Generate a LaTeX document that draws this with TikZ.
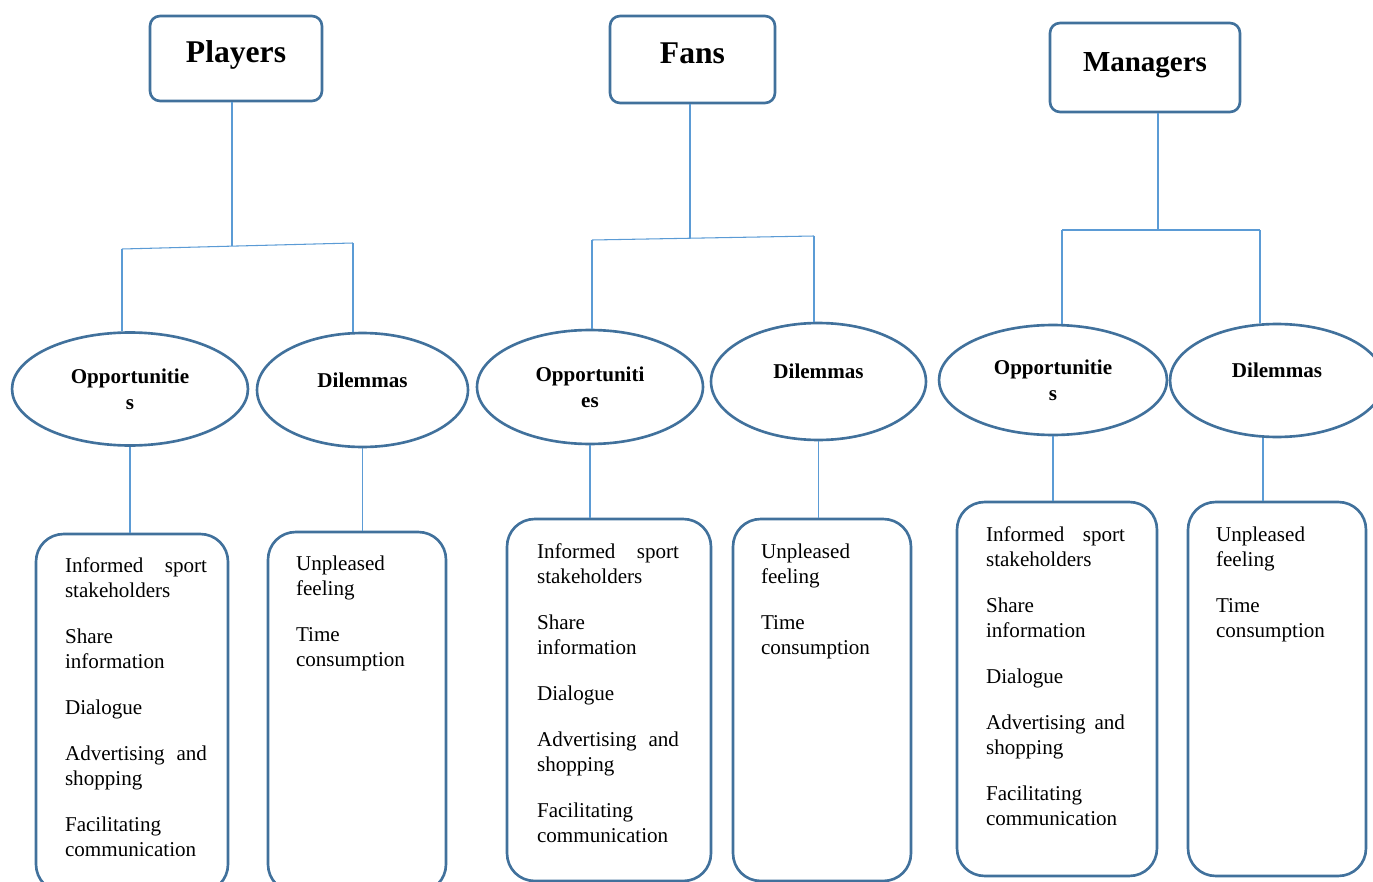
\documentclass[tikz,border=0pt]{standalone}
\usepackage{fontspec}
\setmainfont{Liberation Serif}
\usetikzlibrary{positioning,shapes.geometric}
\definecolor{boxblue}{RGB}{65,113,156}
\definecolor{lineblue}{RGB}{91,155,213}
\hyphenpenalty=10000
\exhyphenpenalty=10000
\newcommand{\itemgap}{\par\vspace{11.9pt}}
\newcommand{\listfont}{\fontsize{12}{14.2}\selectfont}
\newcommand{\opptext}{Informed sport stakeholders\itemgap Share information\itemgap Dialogue\itemgap Advertising and shopping\itemgap Facilitating communication}
\newcommand{\diltext}{Unpleased feeling\itemgap Time consumption}
\begin{document}
\begin{tikzpicture}[x=0.02cm,y=-0.02cm,
        headbox/.style={draw=boxblue,line width=1.5pt,rounded corners=0.2cm,
            font=\fontsize{18}{22}\selectfont\bfseries,text height=12pt,text depth=8pt},
        topic/.style={draw=boxblue,line width=1.5pt,ellipse,align=center,inner sep=0pt,
            font=\fontsize{12}{14.7}\selectfont\bfseries},
        dilemma/.style={topic,text depth=11.5pt},
        listbox/.style={draw=boxblue,line width=1.5pt,rounded corners=0.55cm},
        listtext/.style={inner sep=0pt,text width=2.84cm,align=justify,font=\listfont},
        conn/.style={draw=lineblue,line width=0.6pt}]
    \useasboundingbox (0,0) rectangle (1373,882);
    %% head boxes
    \node[headbox,minimum width=3.44cm,minimum height=1.7cm] (players) at (236,58.5) {Players};
    \node[headbox,minimum width=3.3cm,minimum height=1.74cm] (fans) at (692.5,59.5) {Fans};
    \node[headbox,minimum width=3.8cm,minimum height=1.78cm,
        font=\fontsize{16.5}{20}\selectfont\bfseries] (managers) at (1145,67.5) {Managers};
    %% ellipses
    \node[topic,minimum width=4.72cm,minimum height=2.26cm] (popp) at (130,389) {Opportunitie\\s};
    \node[dilemma,minimum width=4.22cm,minimum height=2.28cm] (pdil) at (362.5,390) {Dilemmas};
    \node[topic,minimum width=4.52cm,minimum height=2.28cm] (fopp) at (590,387) {Opportuniti\\es};
    \node[dilemma,minimum width=4.3cm,minimum height=2.34cm] (fdil) at (818.5,381.5) {Dilemmas};
    \node[topic,minimum width=4.56cm,minimum height=2.2cm] (mopp) at (1053,380) {Opportunitie\\s};
    \node[dilemma,minimum width=4.28cm,minimum height=2.26cm] (mdil) at (1277,380.5) {Dilemmas};
    %% list boxes
    \node[listbox,minimum width=3.84cm,minimum height=7.16cm] (plist) at (132,713) {};
    \node[listbox,minimum width=3.56cm,minimum height=7.2cm] (pdlist) at (357,712) {};
    \node[listbox,minimum width=4.08cm,minimum height=7.24cm] (flist) at (609,700) {};
    \node[listbox,minimum width=3.56cm,minimum height=7.24cm] (fdlist) at (822,700) {};
    \node[listbox,minimum width=4cm,minimum height=7.48cm] (mlist) at (1057,689) {};
    \node[listbox,minimum width=3.56cm,minimum height=7.48cm] (mdlist) at (1277,689) {};
    %% list texts
    \node[listtext,below right=0.5cm and 0.6cm of plist.north west] (ptext) {\opptext};
    \node[listtext,below right=0.5cm and 0.58cm of pdlist.north west] (pdtext) {\diltext};
    \node[listtext,below right=0.52cm and 0.62cm of flist.north west] (ftext) {\opptext};
    \node[listtext,below right=0.52cm and 0.58cm of fdlist.north west] (fdtext) {\diltext};
    \node[listtext,text width=2.78cm,below right=0.52cm and 0.6cm of mlist.north west] (mtext) {\opptext};
    \node[listtext,below right=0.52cm and 0.58cm of mdlist.north west] (mdtext) {\diltext};
    %% branch points
    \coordinate (pmid) at (232,246);
    \coordinate (pl) at (122,249);
    \coordinate (pr) at (353,243);
    \coordinate (fmid) at (690,238);
    \coordinate (fl) at (592,240);
    \coordinate (fr) at (814,236);
    \coordinate (mmid) at (1158,230);
    \coordinate (ml) at (1062,230);
    \coordinate (mr) at (1260,230);
    %% connectors
    \draw[conn] (pmid |- players.south) -- (pmid);
    \draw[conn] (fmid |- fans.south) -- (fmid);
    \draw[conn] (mmid |- managers.south) -- (mmid);
    \draw[conn] (pl) -- (pr);
    \draw[conn] (fl) -- (fr);
    \draw[conn] (ml) -- (mr);
    \foreach \c/\t in {pl/popp,pr/pdil,fl/fopp,fr/fdil,ml/mopp,mr/mdil}
        \draw[conn] (\c) -- (\c |- \t.north);
    \foreach \a/\b in {popp/plist,pdil/pdlist,fopp/flist,fdil/fdlist,mopp/mlist}
        \draw[conn] (\a.south) -- (\a.south |- \b.north);
    \draw[conn] ([xshift=-0.28cm]mdil.south) -- ([xshift=-0.28cm]mdil.south |- mdlist.north);
\end{tikzpicture}
\end{document}
